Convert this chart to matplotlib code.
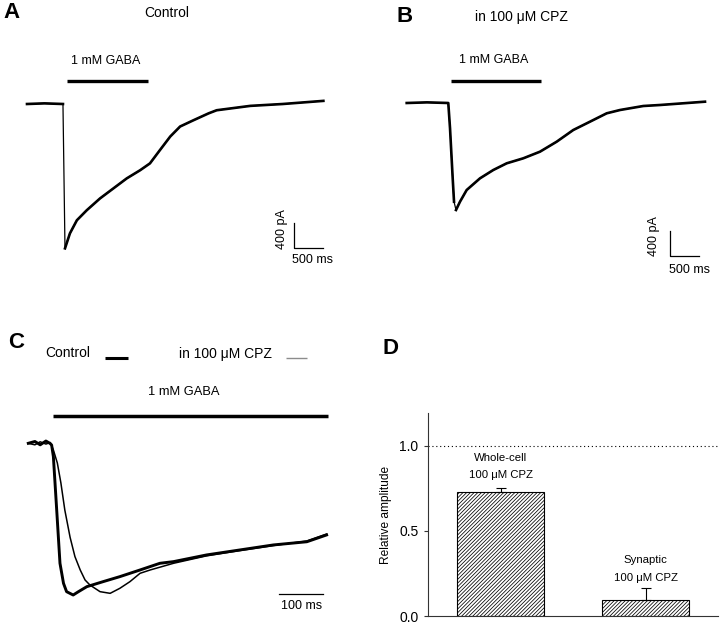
import matplotlib
matplotlib.use('Agg')
import matplotlib.pyplot as plt

plt.rcParams['font.family'] = ['Liberation Sans', 'DejaVu Sans']
plt.rcParams['hatch.linewidth'] = 0.55

# ---------------- data ----------------
# Panel A: control whole-cell current (ms, pA)
a_time_ms = [0, 300, 620, 655, 740, 860, 1030, 1260, 1490, 1720, 1950, 2120,
             2290, 2470, 2640, 2870, 3130, 3270, 3850, 4410, 5110]
a_current_pA = [0, 10, 0, -2310, -2070, -1860, -1700, -1510, -1350, -1190, -1060,
                -950, -740, -520, -360, -260, -150, -100, -30, 0, 50]
a_gaba_ms = [684, 2081]

# Panel B: in 100 uM CPZ (ms, pA)
b_time_ms = [0, 350, 717, 747, 793, 816, 850, 919, 1034, 1264, 1493, 1724, 2010,
             2298, 2586, 2872, 3160, 3448, 3678, 4079, 4367, 5143]
b_current_pA = [0, 10, 0, -405, -1205, -1579, -1712, -1579, -1392, -1205, -1072,
                -965, -885, -779, -619, -432, -299, -165, -112, -48, -32, 21]
b_gaba_ms = [764, 2322]

# Panel C: normalized currents, expanded time (ms)
c_time_control = [0, 15, 27, 40, 49, 53, 57, 65, 72, 80, 87, 102, 114, 133, 170,
                  208, 254, 299, 330, 405, 481, 557, 633, 678]
c_norm_control = [0, 0.012, -0.01, 0.015, 0.0, -0.011, -0.088, -0.461, -0.791,
                  -0.923, -0.978, -1.0, -0.978, -0.945, -0.912, -0.879, -0.835,
                  -0.791, -0.78, -0.736, -0.703, -0.670, -0.649, -0.604]
c_time_cpz = [0, 15, 27, 40, 50, 57, 66, 74, 83, 95, 106, 118, 129, 140, 163,
              186, 208, 231, 254, 277, 330, 405, 481, 557, 633, 678]
c_norm_cpz = [0, -0.01, 0.01, -0.005, 0.005, -0.044, -0.13, -0.26, -0.44,
              -0.62, -0.747, -0.835, -0.901, -0.934, -0.978, -0.989, -0.956,
              -0.912, -0.857, -0.835, -0.791, -0.742, -0.707, -0.674, -0.644,
              -0.598]
c_gaba_ms = [55, 682]

# Panel D: relative amplitude
d_categories = ['Whole-cell', 'Synaptic']
d_values = [0.726, 0.094]
d_errors = [0.027, 0.069]
d_yticks = [0.0, 0.5, 1.0]

# ---------------- layout helpers ----------------
W, H = 720, 625
fig = plt.figure(figsize=(W / 100, H / 100), dpi=100)


def add_ax(x0, y0, x1, y1):
    return fig.add_axes([x0 / W, 1 - y1 / H, (x1 - x0) / W, (y1 - y0) / H])


def ftext(x, y, s, **kw):
    kw.setdefault('ha', 'center')
    kw.setdefault('va', 'center')
    fig.text(x / W, 1 - y / H, s, **kw)


def trace_axes(x0, y0, x1, y1, ox, oy, px_per_x, px_per_y):
    ax = add_ax(x0, y0, x1, y1)
    ax.set_xlim((x0 - ox) / px_per_x, (x1 - ox) / px_per_x)
    ax.set_ylim((oy - y1) / px_per_y, (oy - y0) / px_per_y)
    ax.axis('off')
    return ax


def plot_trace(ax, t, y, drop_idx):
    # thin line for the fast onset, thicker (noisy-looking) line elsewhere
    ax.plot(t, y, color='black', lw=0.9)
    ax.plot(t[:drop_idx], y[:drop_idx], color='black', lw=1.9)
    ax.plot(t[drop_idx:], y[drop_idx:], color='black', lw=1.9)


TITLE = 10
LAB = 9
# ---------------- Panel A ----------------
axA = trace_axes(0, 0, 360, 290, 27, 104, 29 / 500, 1 / 16)
plot_trace(axA, a_time_ms, a_current_pA, 3)
axA.plot(a_gaba_ms, [368, 368], color='black', lw=2.4, solid_capstyle='butt')
axA.plot([4603, 4603, 5103], [-1904, -2304, -2304], color='black', lw=0.9)
ftext(11, 13, 'A', fontsize=16, fontweight='bold')
ftext(167, 13, 'Control', fontsize=TITLE)
ftext(105.5, 61, '1 mM GABA', fontsize=LAB)
ftext(282, 229, '400 pA', fontsize=LAB, rotation=90)
ftext(313, 260, '500 ms', fontsize=LAB)

# ---------------- Panel B ----------------
axB = trace_axes(360, 0, 720, 290, 406.7, 103, 29 / 500, 1 / 16)
plot_trace(axB, b_time_ms, b_current_pA, 6)
axB.plot(b_gaba_ms, [352, 352], color='black', lw=2.4, solid_capstyle='butt')
axB.plot([4540, 4540, 5040], [-2048, -2448, -2448], color='black', lw=0.9)
ftext(405, 16, 'B', fontsize=16, fontweight='bold')
ftext(521.7, 17, 'in 100 μM CPZ', fontsize=TITLE)
ftext(493.3, 60, '1 mM GABA', fontsize=LAB)
ftext(654.5, 236, '400 pA', fontsize=LAB, rotation=90)
ftext(689.5, 270, '500 ms', fontsize=LAB)

# ---------------- Panel C ----------------
axC = trace_axes(0, 290, 360, 625, 28.3, 443.3, 0.44, 151.7)
axC.plot(c_time_cpz, c_norm_cpz, color='black', lw=1.1)
axC.plot(c_time_control, c_norm_control, color='black', lw=2.1)
axC.plot(c_gaba_ms, [0.18, 0.18], color='black', lw=2.5, solid_capstyle='butt')
axC.plot([570, 670], [-0.995, -0.995], color='black', lw=0.9)
axC.plot([174, 227], [0.564, 0.564], color='black', lw=2.2, solid_capstyle='butt')
axC.plot([586, 634], [0.564, 0.564], color='#8c8c8c', lw=1.0, solid_capstyle='butt')
ftext(15.7, 342, 'C', fontsize=16, fontweight='bold')
ftext(67.8, 353.3, 'Control', fontsize=TITLE)
ftext(225.3, 354, 'in 100 μM CPZ', fontsize=TITLE)
ftext(184.2, 391.7, '1 mM GABA', fontsize=9.3)
ftext(301.5, 606, '100 ms', fontsize=LAB)

# ---------------- Panel D ----------------
axD = add_ax(428.3, 413.3, 718.3, 616)
xpos = list(range(len(d_values)))
axD.bar(xpos, d_values, width=0.6, color='white', edgecolor='black',
        hatch='/' * 9, linewidth=0.8, zorder=2)
axD.errorbar(xpos, d_values, yerr=[[0] * len(d_errors), d_errors], fmt='none',
             ecolor='black', elinewidth=0.8, capsize=3.5, capthick=0.8, zorder=3)
axD.axhline(1.0, color='black', lw=0.8, linestyle=(0, (1, 2.5)))
axD.set_xlim(-0.5, 1.5)
axD.set_ylim(0, 1.19)
axD.set_yticks(d_yticks)
axD.set_yticklabels([f'{v:.1f}' for v in d_yticks])
axD.set_xticks([])
axD.tick_params(axis='y', length=3, width=0.8, labelsize=10, pad=4, color='#333333')
for s in ['top', 'right']:
    axD.spines[s].set_visible(False)
for s in ['left', 'bottom']:
    axD.spines[s].set_linewidth(0.8)
    axD.spines[s].set_color('#333333')
axD.set_ylabel('Relative amplitude', fontsize=8.6)
axD.yaxis.set_label_coords(-0.126, 0.5)
label_y = [(0.926, 0.828), (0.329, 0.221)]
for i, name in enumerate(d_categories):
    axD.text(xpos[i], label_y[i][0], name, ha='center', va='center', fontsize=8.2)
    axD.text(xpos[i], label_y[i][1], '100 μM CPZ', ha='center', va='center', fontsize=8.2)
ftext(390.5, 348.5, 'D', fontsize=16, fontweight='bold')

fig.savefig('out.png', dpi=100)
